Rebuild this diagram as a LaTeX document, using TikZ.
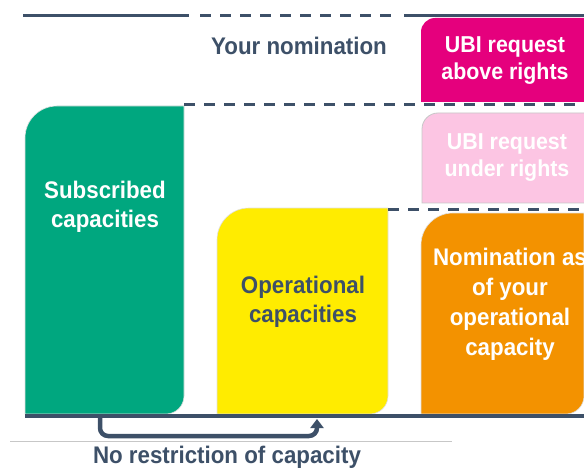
\documentclass[tikz,border=0pt]{standalone}
\usepackage{fontspec}
\setmainfont{Liberation Sans}[FakeStretch=0.93]
\usetikzlibrary{arrows.meta}
\definecolor{slatecolor}{RGB}{61,80,104}
\definecolor{subcolor}{RGB}{0,167,127}
\definecolor{opcolor}{RGB}{255,236,0}
\definecolor{nomcolor}{RGB}{243,146,0}
\definecolor{abovecolor}{RGB}{229,0,125}
\definecolor{undercolor}{RGB}{252,197,227}

\begin{document}
\begin{tikzpicture}[
			x=1pt,y=-1pt,
			capbox/.style={
				draw=black!12,
				line width=0.6pt
			},
			boxlabel/.style={
				align=center,
				inner sep=0pt,
				font=\bfseries\fontsize{24}{29.5}\selectfont
			},
			ubilabel/.style={
				boxlabel,
				text=white,
				font=\bfseries\fontsize{23}{27}\selectfont
			},
			ruleline/.style={
				draw=slatecolor,
				line width=3pt
			},
			dashline/.style={
				ruleline,
				dash pattern=on 11pt off 9pt
			},
			restrarrow/.style={
				-{Triangle[width=13pt,length=9pt]},
				draw=slatecolor,
				line width=4.5pt,
				rounded corners=8pt
			}
			]
			
			\clip (0,0) rectangle (584,468);
			\fill[white] (0,0) rectangle (584,468);
			
			% capacity blocks
			\filldraw[capbox,fill=subcolor] (25,414) -- (25,138)
				.. controls (25,120.3) and (39.3,106) .. (57,106) -- (184,106) -- (184,396)
				.. controls (184,405.9) and (175.9,414) .. (166,414) -- cycle;
			\filldraw[capbox,fill=opcolor] (217,414) -- (217,240)
				.. controls (217,222.3) and (231.3,208) .. (249,208) -- (388,208) -- (388,396)
				.. controls (388,405.9) and (379.9,414) .. (370,414) -- cycle;
			\filldraw[capbox,fill=nomcolor] (421,414) -- (421,245)
				.. controls (421,227.3) and (435.3,213) .. (453,213) -- (584,213) -- (584,396)
				.. controls (584,405.9) and (575.9,414) .. (566,414) -- cycle;
			\fill[abovecolor] (421,102) -- (421,32)
				.. controls (421,24.3) and (427.3,18) .. (435,18) -- (600,18) -- (600,102) -- cycle;
			\filldraw[draw=black!22,line width=0.8pt,fill=undercolor] (600,203) -- (422,203) -- (422,129)
				.. controls (422,120.2) and (429.2,113) .. (438,113) -- (600,113);
			
			\node[boxlabel,text=white] (subscribed) at (105,207) {Subscribed\\capacities};
			\node[boxlabel,text=slatecolor] (operational) at (303,302) {Operational\\capacities};
			\node[boxlabel,text=white,font=\bfseries\fontsize{24}{30}\selectfont] (nomination) at (510,304) {Nomination as\\of your\\operational\\capacity};
			\node[ubilabel] (above) at (505,61) {UBI request\\above rights};
			\node[ubilabel] (under) at (507,158) {UBI request\\under rights};
			\node[boxlabel,text=slatecolor,anchor=base] (yournom) at (299,55) {Your nomination};
			\node[boxlabel,text=slatecolor,anchor=base] (norestr) at (227,463) {No restriction of capacity};
			
			% levels
			\draw[ruleline] (23,16) -- (189,16);
			\draw[dashline] (200,16) -- (395,16);
			\draw[ruleline] (404,16) -- (584,16);
			\draw[dashline] (184,105) -- (584,105);
			\draw[dashline] (388,209) -- (584,209);
			
			\coordinate (restrstart) at (100,414);
			\coordinate (restrend) at (317,419);
			\draw[black!22,line width=1pt] (10,441) -- (452,441);
			\draw[restrarrow] (restrstart) -- (100,436) -| (restrend);
			\draw[ruleline,line width=3.5pt] (25,416) -- (584,416);
			
		\end{tikzpicture}
\end{document}
